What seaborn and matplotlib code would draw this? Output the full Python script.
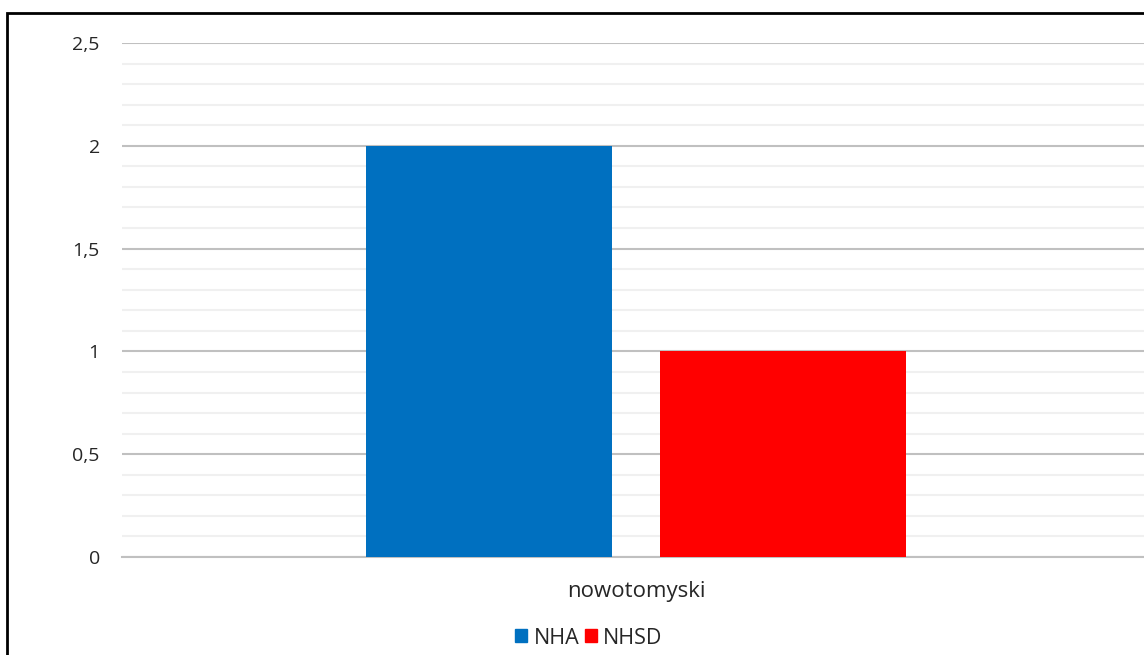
import pandas as pd
import seaborn as sns
import matplotlib.pyplot as plt
from matplotlib.patches import Rectangle
from matplotlib.ticker import MultipleLocator, FuncFormatter

# Datos del gráfico
categorias = ["nowotomyski"]
series = ["NHA", "NHSD"]
valores = [2, 1]
colores = ["#0070C0", "#FF0000"]

df = pd.DataFrame({
    "powiat": categorias * len(series),
    "seria": series,
    "valor": valores,
})

sns.set_style("white")
plt.rcParams["font.family"] = ["Open Sans", "DejaVu Sans"]

W, H = 1144, 655
fig = plt.figure(figsize=(W / 100, H / 100), dpi=100)
ax = fig.add_axes([122 / W, (H - 557) / H, 1028 / W, 514 / H])

sns.barplot(data=df, x="powiat", y="valor", hue="seria", palette=colores,
            width=0.572, gap=0.1664, saturation=1, linewidth=0,
            ax=ax, legend=False, zorder=3)

ax.set_xlim(-0.5, 0.5)
ax.set_ylim(0, 2.5)
ax.yaxis.set_major_locator(MultipleLocator(0.5))
ax.yaxis.set_minor_locator(MultipleLocator(0.1))
ax.yaxis.set_major_formatter(FuncFormatter(lambda v, p: f"{v:g}".replace(".", ",")))
ax.grid(which="major", axis="y", color="#C0C0C0", linewidth=1.5, zorder=1)
ax.grid(which="minor", axis="y", color="#F0F0F0", linewidth=1.5, zorder=0)
ax.set_axisbelow(True)
for s in ["top", "right", "left"]:
    ax.spines[s].set_visible(False)
ax.spines["bottom"].set_color("#C0C0C0")
ax.spines["bottom"].set_linewidth(1.5)
ax.tick_params(axis="y", which="both", length=0, pad=16, labelsize=14, labelcolor="#262626")
ax.tick_params(axis="x", length=0, pad=17, labelsize=16, labelcolor="#262626")
ax.set_xlabel("")
ax.set_ylabel("")

# Leyenda
handles = [Rectangle((0, 0), 1, 1, color=c) for c in colores]
fig.legend(handles, series, loc="center", bbox_to_anchor=(589 / W, 1 - 638 / H),
           ncol=2, frameon=False, fontsize=15.5, handlelength=0.55, handleheight=0.55,
           handletextpad=0.3, columnspacing=0.25, labelcolor="#262626")

# Marco negro
fig.patches.append(Rectangle((7 / W, -0.2), 1.2, 1.2 - 13 / H, transform=fig.transFigure,
                             fill=False, edgecolor="black", linewidth=2, clip_on=False))

plt.savefig("out.png", dpi=100)
